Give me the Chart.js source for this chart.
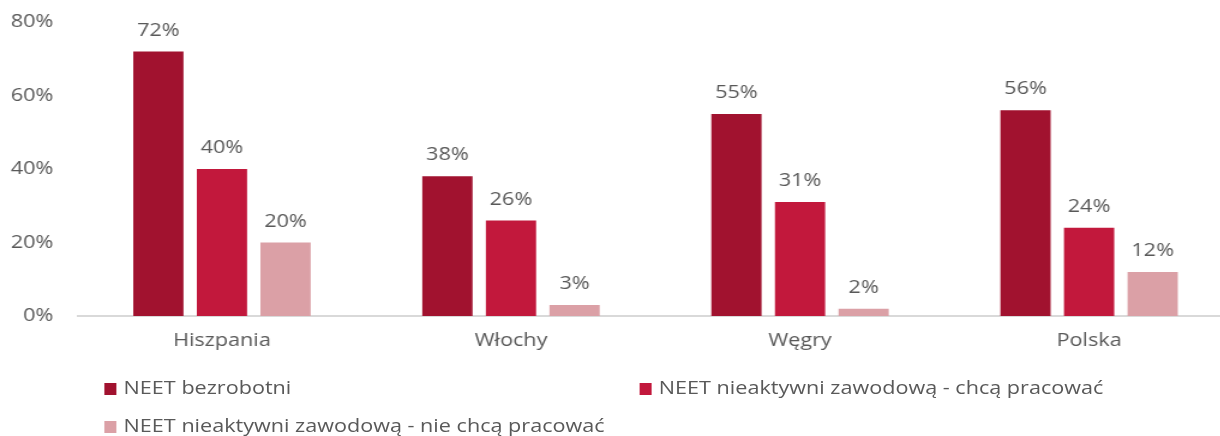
<!DOCTYPE html>
<html>
<head>
<meta charset="utf-8">
<script src="https://cdn.jsdelivr.net/npm/chart.js@4/dist/chart.umd.min.js"></script>
<style>
  html, body { margin: 0; padding: 0; background: #fff; overflow: hidden; }
  #wrap { position: relative; width: 1030px; height: 436px; transform: scaleX(1.2); transform-origin: 0 0; }
  #c { position: absolute; left: 0; top: 0; }
  .leg { position: absolute; font-family: "Open Sans", sans-serif; font-size: 18px; color: #595959; white-space: nowrap; line-height: 20px; }
  .leg i { display: inline-block; width: 10px; height: 12px; margin-right: 6px; vertical-align: -1px; }
</style>
</head>
<body>
<div id="wrap">
  <canvas id="c" width="1030" height="436" style="width:1030px;height:436px"></canvas>
  <div class="leg" style="left:87px;top:377px"><i style="background:#A1122F"></i>NEET bezrobotni</div>
  <div class="leg" style="left:533px;top:377px"><i style="background:#C2183C"></i>NEET nieaktywni zawodową - chcą pracować</div>
  <div class="leg" style="left:87px;top:415px"><i style="background:#DBA0A6"></i>NEET nieaktywni zawodową - nie chcą pracować</div>
</div>
<script>
const countries = ['Hiszpania', 'Włochy', 'Węgry', 'Polska'];
const seriesNames = ['NEET bezrobotni', 'NEET nieaktywni zawodową - chcą pracować', 'NEET nieaktywni zawodową - nie chcą pracować'];
const bezrobotni = [72, 38, 55, 56];
const chcaPracowac = [40, 26, 31, 24];
const nieChcaPracowac = [20, 3, 2, 12];
const colors = ['#A1122F', '#C2183C', '#DBA0A6'];

const font = "'Open Sans', sans-serif";

// value labels above the bars
const valueLabels = {
    id: 'valueLabels',
    afterDatasetsDraw(chart) {
        let ctx = chart.ctx
        ctx.save()
        ctx.font = '18px ' + font
        ctx.fillStyle = '#595959'
        ctx.textAlign = 'center'
        ctx.textBaseline = 'middle'
        chart.data.datasets.forEach((ds, i) => {
            chart.getDatasetMeta(i).data.forEach((bar, j) => {
                ctx.fillText(ds.data[j] + '%', bar.x, bar.y - 21)
            })
        })
        ctx.restore()
    }
}

const data = {
    labels: countries,
    datasets: [
        { label: seriesNames[0], data: bezrobotni, backgroundColor: colors[0] },
        { label: seriesNames[1], data: chcaPracowac, backgroundColor: colors[1] },
        { label: seriesNames[2], data: nieChcaPracowac, backgroundColor: colors[2] }
    ]
};

const config = {
    type: 'bar',
    data: data,
    options: {
        responsive: false,
        animation: false,
        devicePixelRatio: 1,
        categoryPercentage: 0.66,
        barPercentage: 0.79,
        layout: { padding: { top: 22, right: 2, bottom: 80, left: 0 } },
        plugins: { legend: { display: false }, tooltip: { enabled: false } },
        scales: {
            x: {
                grid: { display: false, drawTicks: false },
                border: { display: true, color: '#D9D9D9', width: 2 },
                ticks: { color: '#595959', font: { family: font, size: 18 }, padding: 14 },
                afterFit(scale) { scale.height = 40 }
            },
            y: {
                min: 0,
                max: 80,
                grid: { display: false, drawTicks: false },
                border: { display: false },
                ticks: {
                    stepSize: 20,
                    color: '#595959',
                    font: { family: font, size: 18 },
                    padding: 20,
                    callback: v => v + '%'
                },
                afterFit(scale) {
                    scale.width = 64.5
                    scale.paddingTop = 0
                    scale.paddingBottom = 0
                }
            }
        }
    },
    plugins: [valueLabels]
};

let c = document.getElementById('c').getContext('2d')
new Chart(c, config)
</script>
</body>
</html>
